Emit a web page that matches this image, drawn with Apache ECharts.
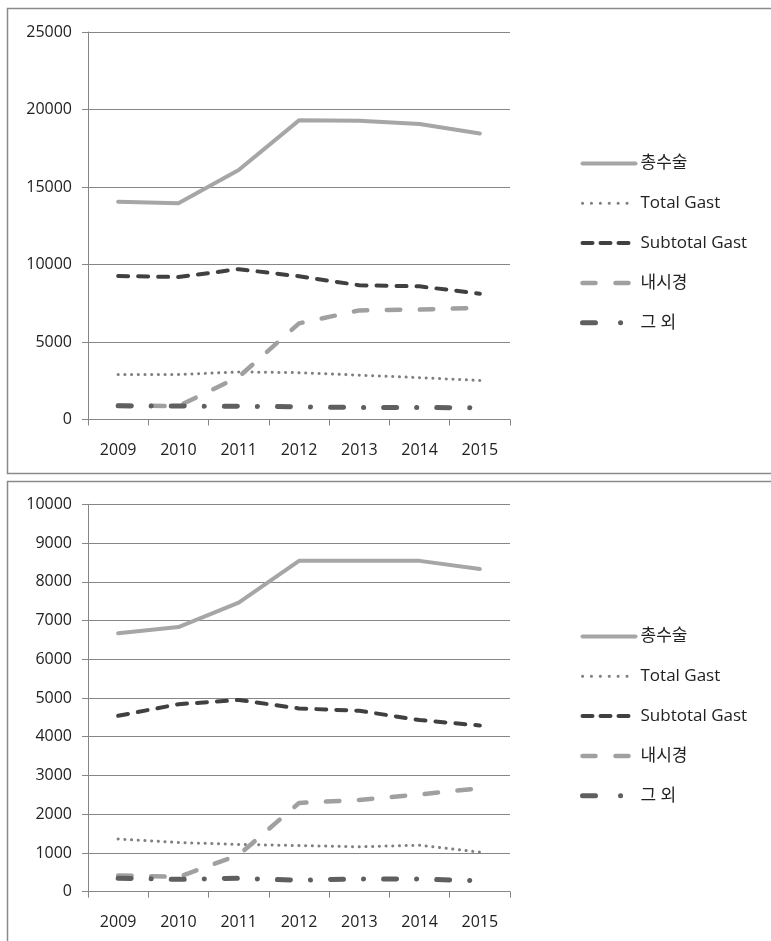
<!DOCTYPE html>
<html>
<head>
<meta charset="utf-8">
<script src="https://cdn.jsdelivr.net/npm/echarts@6/dist/echarts.min.js"></script>
<style>
  html, body { margin: 0; padding: 0; background: #fff; }
  #chart { width: 771px; height: 941px; }
</style>
</head>
<body>
<div id="chart"></div>
<script>
// Categories (years)
const years = ['2009', '2010', '2011', '2012', '2013', '2014', '2015'];

// Series names
const seriesNames = ['총수술', 'Total Gast', 'Subtotal Gast', '내시경', '그 외'];

// Upper panel values
const upperTotal = [14050, 13950, 16100, 19300, 19280, 19060, 18450];
const upperTotalGast = [2900, 2900, 3070, 3020, 2860, 2700, 2520];
const upperSubtotalGast = [9260, 9190, 9700, 9240, 8660, 8590, 8120];
const upperEndoscopy = [890, 870, 2750, 6200, 7040, 7090, 7210];
const upperOther = [880, 870, 850, 820, 770, 770, 760];

// Lower panel values
const lowerTotal = [6670, 6830, 7460, 8540, 8540, 8540, 8330];
const lowerTotalGast = [1360, 1270, 1220, 1190, 1160, 1200, 1020];
const lowerSubtotalGast = [4540, 4840, 4950, 4730, 4670, 4430, 4290];
const lowerEndoscopy = [420, 380, 950, 2290, 2370, 2510, 2670];
const lowerOther = [345, 320, 345, 295, 330, 325, 285];

// Y-axis ranges
const upperMax = 25000, upperStep = 5000;
const lowerMax = 10000, lowerStep = 1000;

const axisGray = '#868686';
const labelColor = '#222';
const numFont = '"Open Sans", "Noto Sans CJK KR", sans-serif';

// Line styles per series
const styles = [
  { color: '#a6a6a6', width: 4, type: 'solid', cap: 'round' },
  { color: '#7f7f7f', width: 3, type: [0.1, 6.6], cap: 'round' },
  { color: '#404040', width: 4, type: [10, 10], cap: 'round' },
  { color: '#a0a0a0', width: 4.5, type: [13.5, 19.5], cap: 'round' },
  { color: '#5f5f5f', width: 5, type: [13, 20, 0.1, 20], cap: 'round' }
];

// Legend keys use their own dash spacing to fit the short sample line
const legendDash = [
  'solid',
  [0.1, 8.8],
  [10, 8],
  [13, 20],
  [13, 25, 0.1, 25]
];

function lineStyleOf(i, dash) {
  return {
    color: styles[i].color,
    width: styles[i].width,
    type: dash || styles[i].type,
    cap: styles[i].cap,
    join: 'round',
    opacity: 1
  };
}

function makeSeries(dataSets, axisIndex) {
  return dataSets.map((d, i) => ({
    name: seriesNames[i],
    type: 'line',
    xAxisIndex: axisIndex,
    yAxisIndex: axisIndex,
    data: d,
    symbol: 'none',
    silent: true,
    animation: false,
    lineStyle: lineStyleOf(i),
    itemStyle: { color: styles[i].color }
  }));
}

function makeXAxis(gridIndex) {
  return {
    type: 'category',
    gridIndex: gridIndex,
    data: years,
    boundaryGap: true,
    axisLine: { show: true, lineStyle: { color: axisGray, width: 1 } },
    axisTick: { show: true, length: 6, lineStyle: { color: axisGray } },
    axisLabel: { color: labelColor, fontSize: 16, fontFamily: numFont, margin: 23 },
    splitLine: { show: false }
  };
}

function makeYAxis(gridIndex, max, step) {
  return {
    type: 'value',
    gridIndex: gridIndex,
    min: 0,
    max: max,
    interval: step,
    axisLine: { show: true, lineStyle: { color: axisGray, width: 1 } },
    axisTick: { show: true, length: 6, lineStyle: { color: axisGray } },
    axisLabel: {
      color: labelColor, fontSize: 16, fontFamily: numFont, margin: 16,
      formatter: (v) => String(v)
    },
    splitLine: { show: true, lineStyle: { color: axisGray, width: 1 } }
  };
}

function makeLegend(top) {
  return {
    orient: 'vertical',
    left: 575,
    top: top,
    itemWidth: 53,
    itemHeight: 14,
    itemGap: 22.8,
    selectedMode: false,
    data: seriesNames.map((n, i) => ({
      name: n,
      itemStyle: { opacity: 0 },
      lineStyle: lineStyleOf(i, legendDash[i])
    })),
    textStyle: {
      color: labelColor,
      fontSize: 17,
      lineHeight: 16,
      fontFamily: numFont
    }
  };
}

const chart = echarts.init(document.getElementById('chart'), null, { renderer: 'canvas' });

chart.setOption({
  animation: false,
  backgroundColor: '#fff',
  graphic: [
    {
      type: 'rect',
      shape: { x: 7.5, y: 8.5, width: 780, height: 465 },
      style: { fill: 'none', stroke: '#8a8a8a', lineWidth: 1.5 },
      silent: true,
      z: -10
    },
    {
      type: 'rect',
      shape: { x: 7.5, y: 481.5, width: 780, height: 480 },
      style: { fill: 'none', stroke: '#8a8a8a', lineWidth: 1.5 },
      silent: true,
      z: -10
    }
  ],
  grid: [
    { left: 88, right: 261, top: 32, height: 387.5, containLabel: false },
    { left: 88, right: 261, top: 504.3, height: 387.4, containLabel: false }
  ],
  legend: [makeLegend(150), makeLegend(623)],
  xAxis: [makeXAxis(0), makeXAxis(1)],
  yAxis: [makeYAxis(0, upperMax, upperStep), makeYAxis(1, lowerMax, lowerStep)],
  series: [
    ...makeSeries([upperTotal, upperTotalGast, upperSubtotalGast, upperEndoscopy, upperOther], 0),
    ...makeSeries([lowerTotal, lowerTotalGast, lowerSubtotalGast, lowerEndoscopy, lowerOther], 1)
  ]
});
</script>
</body>
</html>
